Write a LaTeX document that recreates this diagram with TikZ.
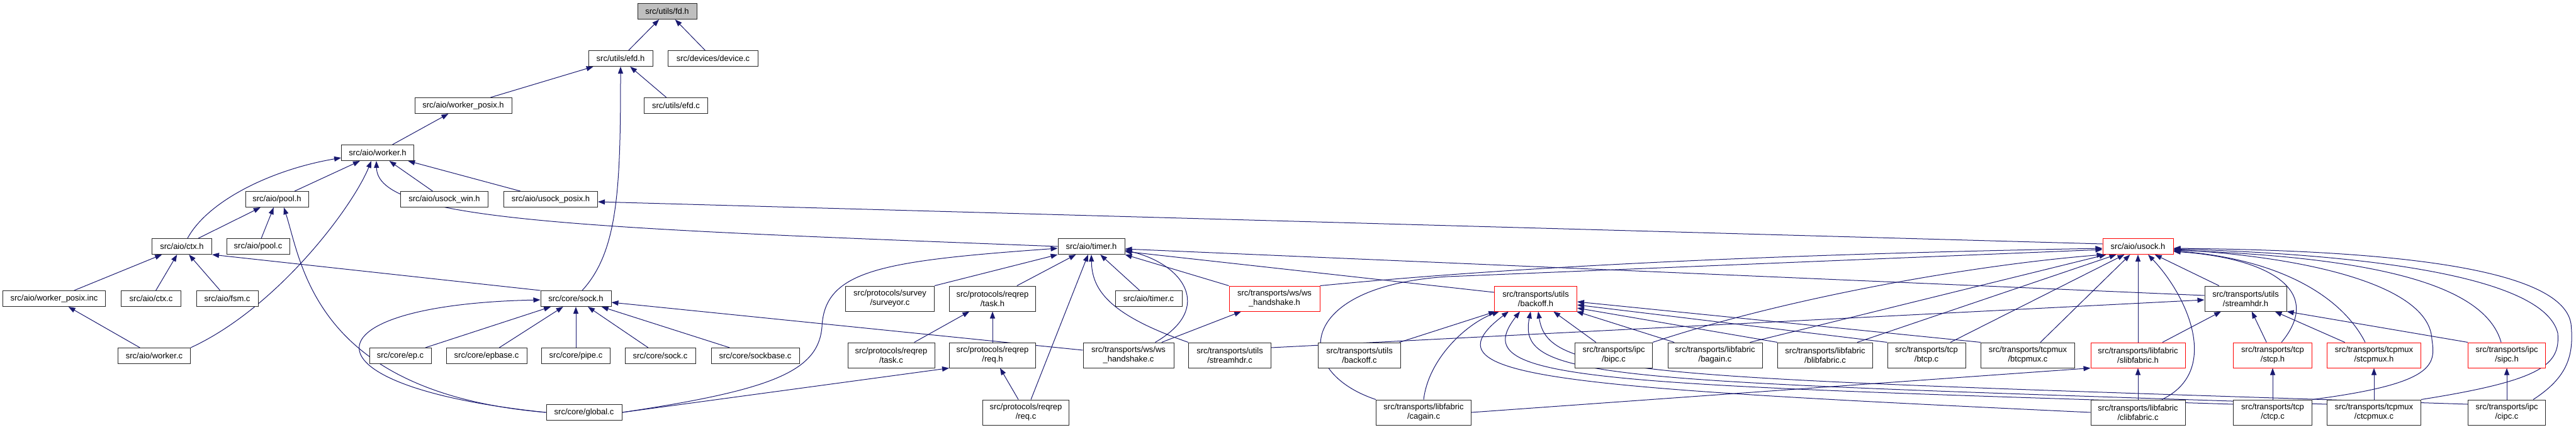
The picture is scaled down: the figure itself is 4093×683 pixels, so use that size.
\documentclass[tikz,border=0pt]{standalone}
\usepackage{fontspec}
\setmainfont{Liberation Sans}
\usetikzlibrary{arrows.meta,positioning,calc}
\definecolor{edgeblue}{HTML}{191970}
\pgfdeclarelayer{background}
\pgfsetlayers{background,main}
\tikzset{
  box/.style={draw=black!85, line width=1pt, fill=white, inner xsep=4pt, inner ysep=2pt,
    minimum height=25pt, align=center, font=\fontsize{13}{15}\selectfont},
  tall/.style={minimum height=40pt},
  trunc/.style={draw=red},
  dep/.style={draw=edgeblue, line width=1pt, -{Triangle[length=11pt,width=8pt]}},
}

\begin{document}
\begin{tikzpicture}[x=1pt, y=-1pt]
    \useasboundingbox (0,0) rectangle (4093,683);

    % obere Ebenen
    \node[box, fill=gray!50, minimum width=94pt] (fdh) at (1060,18) {src/utils/fd.h};
    \node[box, minimum width=102pt] (efdh) at (986,93) {src/utils/efd.h};
    \node[box, minimum width=143pt] (devicec) at (1133,93) {src/devices/device.c};
    \node[box, minimum width=154pt] (wposixh) at (736,168) {src/aio/worker\_posix.h};
    \node[box, minimum width=101pt] (efdc) at (1074,168) {src/utils/efd.c};
    \node[box, minimum width=115pt] (workerh) at (600,243) {src/aio/worker.h};
    \node[box, minimum width=100pt] (poolh) at (440,317) {src/aio/pool.h};
    \node[box, minimum width=139pt] (usockwinh) at (706,317) {src/aio/usock\_win.h};
    \node[box, minimum width=149pt] (usockposixh) at (875,317) {src/aio/usock\_posix.h};
    \node[box, minimum width=95pt] (ctxh) at (289,392) {src/aio/ctx.h};
    \node[box, minimum width=100pt] (poolc) at (410,392) {src/aio/pool.c};
    \node[box, minimum width=106pt] (timerh) at (1734,392) {src/aio/timer.h};
    \node[box, trunc, minimum width=112pt] (usockh) at (3397,392) {src/aio/usock.h};

    % mittlere Ebene
    \node[box, minimum width=163pt] (wposixinc) at (86,475) {src/aio/worker\_posix.inc};
    \node[box, minimum width=95pt] (ctxc) at (240,475) {src/aio/ctx.c};
    \node[box, minimum width=98pt] (fsmc) at (361,475) {src/aio/fsm.c};
    \node[box, minimum width=112pt] (sockh) at (915,475) {src/core/sock.h};
    \node[box, tall, minimum width=141pt] (surveyorc) at (1414,475) {src/protocols/survey\\/surveyor.c};
    \node[box, tall, minimum width=137pt] (taskh) at (1577,475) {src/protocols/reqrep\\/task.h};
    \node[box, minimum width=106pt] (timerc) at (1825,475) {src/aio/timer.c};
    \node[box, tall, trunc, minimum width=144pt] (wshsh) at (2025,475) {src/transports/ws/ws\\\_handshake.h};
    \node[box, tall, trunc, minimum width=131pt] (backoffh) at (2440,475) {src/transports/utils\\/backoff.h};
    \node[box, tall, minimum width=130pt] (streamhdrh) at (3568,475) {src/transports/utils\\/streamhdr.h};

    \node[box, minimum width=115pt] (workerc) at (245,566) {src/aio/worker.c};
    \node[box, minimum width=98pt] (epc) at (636,566) {src/core/ep.c};
    \node[box, minimum width=128pt] (epbasec) at (773,566) {src/core/epbase.c};
    \node[box, minimum width=109pt] (pipec) at (915,566) {src/core/pipe.c};
    \node[box, minimum width=112pt] (sockc) at (1049,566) {src/core/sock.c};
    \node[box, minimum width=140pt] (sockbasec) at (1200,566) {src/core/sockbase.c};
    \node[box, tall, minimum width=138pt] (taskc) at (1416,565) {src/protocols/reqrep\\/task.c};
    \node[box, tall, minimum width=137pt] (reqh) at (1577,565) {src/protocols/reqrep\\/req.h};
    \node[box, tall, minimum width=144pt] (wshsc) at (1793,565) {src/transports/ws/ws\\\_handshake.c};
    \node[box, tall, minimum width=131pt] (streamhdrc) at (1954,565) {src/transports/utils\\/streamhdr.c};
    \node[box, tall, minimum width=131pt] (backoffc) at (2160,565) {src/transports/utils\\/backoff.c};
    \node[box, tall, minimum width=123pt] (bipcc) at (2564,565) {src/transports/ipc\\/bipc.c};
    \node[box, tall, minimum width=150pt] (bagainc) at (2725,565) {src/transports/libfabric\\/bagain.c};
    \node[box, tall, minimum width=151pt] (blibfabricc) at (2900,565) {src/transports/libfabric\\/blibfabric.c};
    \node[box, tall, minimum width=124pt] (btcpc) at (3061,565) {src/transports/tcp\\/btcp.c};
    \node[box, tall, minimum width=149pt] (btcpmuxc) at (3222,565) {src/transports/tcpmux\\/btcpmux.c};
    \node[box, tall, trunc, minimum width=150pt] (slibfabrich) at (3397,565) {src/transports/libfabric\\/slibfabric.h};
    \node[box, tall, trunc, minimum width=125pt] (stcph) at (3611,565) {src/transports/tcp\\/stcp.h};
    \node[box, tall, trunc, minimum width=149pt] (stcpmuxh) at (3772,565) {src/transports/tcpmux\\/stcpmux.h};
    \node[box, tall, trunc, minimum width=123pt] (sipch) at (3983,565) {src/transports/ipc\\/sipc.h};

    % untere Ebene
    \node[box, minimum width=120pt] (globalc) at (928,656) {src/core/global.c};
    \node[box, tall, minimum width=137pt] (reqc) at (1630,656) {src/protocols/reqrep\\/req.c};
    \node[box, tall, minimum width=151pt] (cagainc) at (2262,656) {src/transports/libfabric\\/cagain.c};
    \node[box, tall, minimum width=150pt] (clibfabricc) at (3397,656) {src/transports/libfabric\\/clibfabric.c};
    \node[box, tall, minimum width=125pt] (ctcpc) at (3611,656) {src/transports/tcp\\/ctcp.c};
    \node[box, tall, minimum width=149pt] (ctcpmuxc) at (3772,656) {src/transports/tcpmux\\/ctcpmux.c};
    \node[box, tall, minimum width=123pt] (cipcc) at (3983,656) {src/transports/ipc\\/cipc.c};

    \begin{pgfonlayer}{background}
    % fd.h, efd.h, worker_posix.h
    \draw[dep] (efdh) -- (fdh);
    \draw[dep] (devicec) -- (fdh);
    \draw[dep] (wposixh) -- (efdh);
    \draw[dep] (efdc) -- (efdh);
    \draw[dep] ([xshift=10pt]sockh.north) .. controls (982,400) and (986,300) .. (efdh.south);
    \draw[dep] (workerh) -- (wposixh);

    % worker.h
    \foreach \s in {poolh,usockwinh,usockposixh} \draw[dep] (\s) -- (workerh);
    \draw[dep] ([xshift=9pt]ctxh.north) .. controls (330,320) and (430,270) .. ([yshift=-8pt]workerh.west);
    \draw[dep] (workerc.north east) .. controls (440,490) and (560,330) .. ([xshift=-10pt]workerh.south);
    \draw[dep] (timerh.west) .. controls (900,362) and (600,350) .. ([xshift=-2pt]workerh.south);

    % pool.h, ctx.h
    \draw[dep] (ctxh) -- (poolh);
    \draw[dep] (poolc) -- (poolh);
    \draw[dep] (globalc.west) .. controls (500,625) and (480,420) .. ([xshift=11pt]poolh.south);
    \foreach \s in {wposixinc,ctxc,fsmc} \draw[dep] (\s) -- (ctxh);
    \draw[dep] (sockh.north west) -- (ctxh.south east);
    \draw[dep] (workerc) -- (wposixinc);
    \draw[dep] ([yshift=4pt]usockh.west) -- ([yshift=-4pt]usockposixh.east);

    % sock.h
    \foreach \s in {epc,epbasec,pipec,sockc,sockbasec} \draw[dep] (\s) -- (sockh);
    \draw[dep] (globalc.west) .. controls (470,615) and (480,485) .. ([yshift=-2pt]sockh.west);
    \draw[dep] ([yshift=8pt]wshsc.west) -- ([yshift=-6pt]sockh.east);

    % timer.h
    \draw[dep] (globalc.east) .. controls (1230,620) and (1300,590) .. (1306,520)
        .. controls (1310,430) and (1400,415) .. ([yshift=-3pt]timerh.west);
    \draw[dep] (surveyorc.north east) -- (timerh.south west);
    \foreach \s in {taskh,reqc,timerc} \draw[dep] (\s) -- (timerh);
    \draw[dep] (streamhdrc.north west) .. controls (1760,500) and (1735,460) .. (timerh.south);
    \draw[dep] ([xshift=-30pt]wshsc.north east) .. controls (1930,490) and (1880,420) .. ([yshift=-6pt]timerh.east);
    \draw[dep] (wshsh.north west) -- (timerh.south east);
    \draw[dep] ([yshift=10pt]backoffh.west) -- ([yshift=-8pt]timerh.east);
    \draw[dep] ([yshift=5pt]streamhdrh.west) -- ([yshift=-4pt]timerh.east);

    % reqrep
    \draw[dep] (globalc.east) -- (reqh.south west);
    \draw[dep] (taskc) -- (taskh);
    \draw[dep] (reqh) -- (taskh);
    \draw[dep] (reqc) -- (reqh);
    \draw[dep] (wshsc) -- (wshsh);

    % streamhdr.h
    \draw[dep] ([yshift=12pt]streamhdrc.east) -- ([yshift=-2pt]streamhdrh.west);
    \foreach \s in {slibfabrich,stcph,stcpmuxh} \draw[dep] (\s) -- (streamhdrh);
    \draw[dep] (sipch.north west) -- (streamhdrh.south east);
    \draw[dep] (ctcpc) -- (stcph);
    \draw[dep] (ctcpmuxc) -- (stcpmuxh);
    \draw[dep] (cipcc) -- (sipch);
    \draw[dep] (clibfabricc) -- (slibfabrich);
    \draw[dep] (cagainc.east) -- (slibfabrich.south west);

    % backoff.h
    \foreach \s in {backoffc,bipcc,bagainc} \draw[dep] (\s) -- (backoffh);
    \draw[dep] (cagainc.north) .. controls (2270,570) and (2330,515) .. ([xshift=8pt]backoffh.south west);
    \draw[dep] (blibfabricc.north west) -- ([yshift=-15pt]backoffh.east);
    \draw[dep] (btcpc.north west) -- ([yshift=-10pt]backoffh.east);
    \draw[dep] (btcpmuxc.north west) -- ([yshift=-5pt]backoffh.east);
    \draw[dep] (clibfabricc.west) .. controls (2450,615) and (2260,600) .. ([xshift=-43pt]backoffh.south);
    \draw[dep] ([yshift=13pt]ctcpc.west) .. controls (2500,610) and (2330,605) .. ([xshift=-25pt]backoffh.south);
    \draw[dep] ([yshift=13pt]ctcpmuxc.west) .. controls (2550,605) and (2410,605) .. ([xshift=-8pt]backoffh.south);
    \draw[dep] ([yshift=13pt]cipcc.west) .. controls (2600,600) and (2460,600) .. ([xshift=4pt]backoffh.south);

    % usock.h
    \draw[dep] (wshsh.north east) .. controls (2400,425) and (2800,405) .. ([yshift=-3pt]usockh.west);
    \draw[dep] (cagainc.north west) .. controls (2050,590) and (2060,455) .. (2300,440) -- ([yshift=-5pt]usockh.west);
    \draw[dep] (bipcc.north east) .. controls (2850,470) and (3150,420) .. ([xshift=2pt]usockh.south west);
    \draw[dep] ([xshift=-20pt]bagainc.north east) -- ([xshift=6pt]usockh.south west);
    \draw[dep] ([xshift=-25pt]blibfabricc.north east) -- ([xshift=22pt]usockh.south west);
    \draw[dep] ([xshift=38pt]btcpc.north) -- ([xshift=35pt]usockh.south west);
    \draw[dep] ([xshift=20pt]btcpmuxc.north) -- ([xshift=44pt]usockh.south west);
    \draw[dep] (slibfabrich) -- (usockh);
    \draw[dep] ([xshift=38pt]clibfabricc.north) .. controls (3530,590) and (3475,470) .. ([xshift=16pt]usockh.south);
    \draw[dep] (streamhdrh) -- (usockh);
    \draw[dep] ([xshift=14pt]stcph.north) .. controls (3695,460) and (3600,410) .. ([yshift=-8pt]usockh.east);
    \draw[dep] ([xshift=-14pt]stcpmuxh.north) .. controls (3720,470) and (3620,412) .. ([yshift=-7pt]usockh.east);
    \draw[dep] ([xshift=-9pt]sipch.north) .. controls (3950,460) and (3800,410) .. ([yshift=-6pt]usockh.east);
    \draw[dep] (ctcpc.north east) .. controls (3870,610) and (3870,580) .. (3864,540)
        .. controls (3860,450) and (3650,408) .. ([yshift=-5pt]usockh.east);
    \draw[dep] (ctcpmuxc.north east) .. controls (4040,605) and (4068,580) .. (4064,530)
        .. controls (4040,430) and (3700,403) .. ([yshift=-4pt]usockh.east);
    \draw[dep] ([xshift=-20pt]cipcc.north east) .. controls (4080,600) and (4090,565) .. (4085,515)
        .. controls (4070,420) and (3760,398) .. ([yshift=-3pt]usockh.east);
    \end{pgfonlayer}
\end{tikzpicture}
\end{document}
